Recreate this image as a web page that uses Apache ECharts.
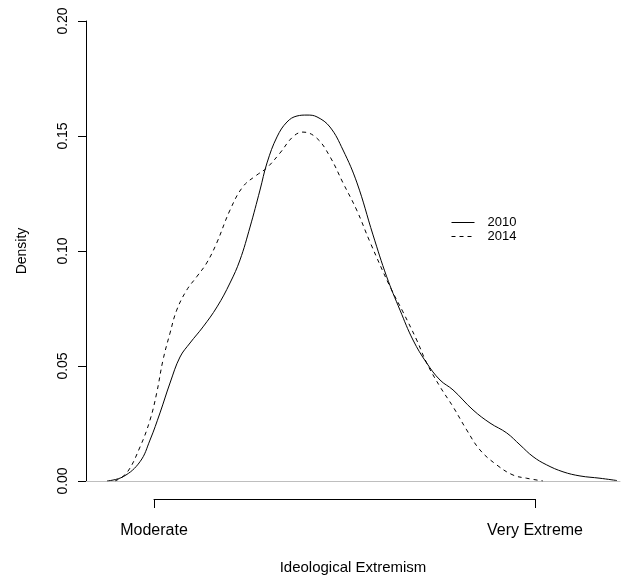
<!DOCTYPE html>
<html><head><meta charset="utf-8">
<script src="https://cdn.jsdelivr.net/npm/echarts@6/dist/echarts.min.js"></script>
<style>html,body{margin:0;padding:0;background:#fff}#c{width:630px;height:576px}</style>
</head><body><div id="c"></div>
<script>
// Ideological extremism scale: 0 = Moderate, 1 = Very Extreme
const x2010 = [-0.1234,-0.0806,-0.0367,-0.0105,0.0157,0.0420,0.0682,0.0945,0.1286,0.1654,0.1995,0.2257,0.2520,0.2782,0.2966,0.3228,0.3491,0.3753,0.4016,0.4278,0.4619,0.4961,0.5328,0.5748,0.6108,0.6457,0.6798,0.7157,0.7507,0.7848,0.8373,0.8819,0.9257,0.9606,0.9948,1.0307,1.0735,1.1181,1.1706,1.2152];
const y2010 = [0,0.0019,0.0084,0.0178,0.0296,0.0426,0.0539,0.0600,0.0670,0.0757,0.0861,0.0961,0.1104,0.1265,0.1383,0.1496,0.1561,0.1587,0.1591,0.1583,0.1539,0.1439,0.1296,0.1070,0.0888,0.0743,0.0613,0.0513,0.0439,0.0396,0.0309,0.0252,0.0209,0.0157,0.0106,0.0070,0.0040,0.0022,0.0012,0.0002];
const x2014 = [-0.1024,-0.0717,-0.0367,-0.0105,0.0071,0.0236,0.0420,0.0596,0.0858,0.1121,0.1383,0.1646,0.1995,0.2336,0.2696,0.2958,0.3307,0.3648,0.3911,0.4270,0.4619,0.4961,0.5320,0.5669,0.6194,0.6535,0.6895,0.7157,0.7507,0.7848,0.8207,0.8556,0.8995,0.9423,0.9782,1.0210];
const y2014 = [0,0.0035,0.0148,0.0265,0.0383,0.0526,0.0643,0.0743,0.0830,0.0888,0.0948,0.1035,0.1178,0.1280,0.1330,0.1361,0.1426,0.1497,0.1517,0.1491,0.1410,0.1296,0.1178,0.1039,0.0845,0.0735,0.0613,0.0513,0.0410,0.0323,0.0222,0.0135,0.0070,0.0026,0.0012,0];
const seriesNames = ['2010','2014'];
const xTickValues = [0, 1];
const xTickLabels = ['Moderate', 'Very Extreme'];
const yMin = 0, yMax = 0.2, yStep = 0.05;
const xTitle = 'Ideological Extremism';
const yTitle = 'Density';

const FONT = "'Liberation Sans', Arial, Helvetica, sans-serif";
const pair = (xs, ys) => xs.map((x, i) => [x, ys[i]]);

const chart = echarts.init(document.getElementById('c'), null, {renderer: 'canvas'});
chart.setOption({
  animation: false,
  backgroundColor: '#ffffff',
  textStyle: {fontFamily: FONT},
  grid: [
    {left: 86, right: 10, top: 21, bottom: 95, containLabel: false, outerBoundsMode: 'none'},
    {left: 154, width: 381, top: 480, height: 19, containLabel: false, outerBoundsMode: 'none'}
  ],
  xAxis: [
    {
      gridIndex: 0, type: 'value', min: -0.1785, max: 1.2231,
      axisLine: {show: true, onZero: false, lineStyle: {color: '#bebebe', width: 1}},
      axisTick: {show: false}, axisLabel: {show: false}, splitLine: {show: false},
      name: xTitle, nameLocation: 'middle', nameGap: 79,
      nameTextStyle: {fontFamily: FONT, fontSize: 15, color: '#000'}
    },
    {
      gridIndex: 1, type: 'value', min: 0, max: 1, interval: 1,
      axisLine: {show: true, onZero: false, lineStyle: {color: '#000', width: 1}},
      axisTick: {show: true, inside: false, length: 9, lineStyle: {color: '#000', width: 1}},
      axisLabel: {show: true, margin: 24, fontFamily: FONT, fontSize: 16, color: '#000',
        showMinLabel: true, showMaxLabel: true,
        formatter: v => { const i = xTickValues.indexOf(v); return i >= 0 ? xTickLabels[i] : ''; }},
      splitLine: {show: false}
    }
  ],
  yAxis: [
    {
      gridIndex: 0, type: 'value', min: yMin, max: yMax, interval: yStep,
      axisLine: {show: true, onZero: false, lineStyle: {color: '#000', width: 1}},
      axisTick: {show: true, inside: false, length: 8, lineStyle: {color: '#000', width: 1}},
      axisLabel: {show: true, rotate: 90, margin: 16, fontFamily: FONT, fontSize: 14, color: '#000',
        formatter: v => v.toFixed(2)},
      splitLine: {show: false},
      name: yTitle, nameLocation: 'middle', nameGap: 57, nameRotate: 90,
      nameTextStyle: {fontFamily: FONT, fontSize: 14, color: '#000'}
    },
    {
      gridIndex: 1, type: 'value', show: false, min: 0, max: 1
    }
  ],
  legend: {
    show: true, orient: 'vertical', left: 446, top: 211,
    itemWidth: 23, itemHeight: 14, itemGap: 1,
    itemStyle: {opacity: 0},
    lineStyle: {width: 1, opacity: 1},
    data: seriesNames,
    textStyle: {fontFamily: FONT, fontSize: 13, color: '#000', padding: [0, 0, 0, 8]}
  },
  series: [
    {
      name: seriesNames[0], type: 'line', xAxisIndex: 0, yAxisIndex: 0,
      data: pair(x2010, y2010), symbol: 'none', smooth: 0.4,
      lineStyle: {color: '#000', width: 1, type: 'solid'}, itemStyle: {color: '#000'}
    },
    {
      name: seriesNames[1], type: 'line', xAxisIndex: 0, yAxisIndex: 0,
      data: pair(x2014, y2014), symbol: 'none', smooth: 0.4,
      lineStyle: {color: '#000', width: 1, type: [4, 4]}, itemStyle: {color: '#000'}
    }
  ]
});
</script>
</body></html>
